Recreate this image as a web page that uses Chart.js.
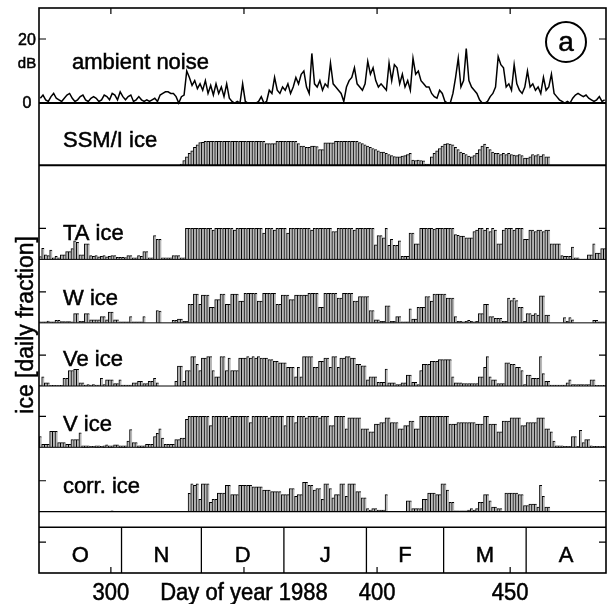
<!DOCTYPE html>
<html>
<head>
<meta charset="utf-8">
<script src="https://cdn.jsdelivr.net/npm/chart.js@4.4.0/dist/chart.umd.min.js"></script>
<style>
  html, body { margin: 0; padding: 0; background: #fff; }
  #wrap { width: 608px; height: 604px; }
</style>
</head>
<body>
<div id="wrap"><canvas id="chart"></canvas></div>
<script>
// daily values, first bar = 1 Oct 1987 (day 273.5, day 365 = 1 Jan 1988)
const firstDay = 273.5;

// ambient noise [dB]
const noise = [
  1.5, 2.5, 1, 0.5, 2, 3, 1.5, 1, 0.5, 1.5,
  2.5, 3, 1.5, 0.5, 1, 2, 2.5, 1, 0.5, 1.5,
  2, 1.5, 0.5, 1, 2.5, 2, 1, 3, 2.5, 1,
  3.5, 2, 1, 2, 2.5, 0.5, 1, 2, 1, 0.5,
  1, 0.5, 1, 1.5, 0.5, 2.5, 3, 3.5, 3.5, 3,
  3, 2, 0, 2, 2.5, 10, 8, 5.5, 7, 4.5,
  6, 4, 7, 3, 5.5, 2.5, 6, 3, 5, 2,
  6, 1.5, 0.5, 0, 0.5, 0, 6, 0.5, 0, 0,
  0, 0, 0.5, 2, 0, 0.5, 4, 3, 8, 4,
  3, 5, 4, 6, 3, 5, 8, 6, 9, 10,
  5, 3, 15.5, 6, 5, 7, 4, 6, 5, 12.5,
  6, 5, 4, 3, 0.5, 5, 7, 8, 11, 6,
  5, 4, 6, 13, 9, 11, 7, 5, 6, 5,
  4, 12.5, 7, 12, 11, 6, 9, 5, 7, 4,
  14, 9, 10, 7, 6, 5, 5, 3, 2, 1.5,
  4, 3, 0.5, 0, 0, 3, 8, 14, 5, 7,
  17, 7, 5, 4, 3, 1, 0, 0, 0.5, 2,
  3, 5, 14.5, 12, 11, 5, 6, 4, 12, 6,
  4, 3, 5, 10, 5, 6, 4, 5, 3, 8,
  4, 5, 9, 3, 2, 1, 0.5, 0, 0.5, 0,
  1.5, 2.5, 3, 2.5, 2, 2.5, 1.5, 1, 0.5, 1,
  2, 0.5, 1
];

// SSM/I ice concentration
const ssm = [
  0, 0, 0, 0, 0, 0, 0, 0, 0, 0,
  0, 0, 0, 0, 0, 0, 0, 0, 0, 0,
  0, 0, 0, 0, 0, 0, 0, 0, 0, 0,
  0, 0, 0, 0, 0, 0, 0, 0, 0, 0,
  0, 0, 0, 0, 0, 0, 0, 0, 0, 0,
  0, 0, 0, 0.05, 0.2, 0.35, 0.5, 0.6, 0.75, 0.85,
  0.95, 0.96, 1, 1, 1, 1, 1, 1, 1, 1,
  1, 1, 1, 1, 1, 1, 1, 1, 1, 1,
  1, 1, 1, 1, 1, 0.9, 0.9, 0.9, 0.9, 1,
  1, 1, 1, 1, 1, 1, 1, 0.9, 0.8, 0.8,
  0.75, 0.75, 0.8, 0.8, 0.78, 0.65, 0.65, 0.94, 0.94, 0.94,
  0.94, 1, 1, 1, 1, 1, 1, 1, 1, 1,
  0.95, 0.9, 0.85, 0.8, 0.75, 0.7, 0.65, 0.6, 0.55, 0.55,
  0.5, 0.45, 0.4, 0.36, 0.35, 0.35, 0.38, 0.4, 0.45, 0.5,
  0.22, 0.2, 0.22, 0.2, 0.18, 0.05, 0.05, 0.35, 0.5, 0.6,
  0.7, 0.8, 0.88, 0.9, 0.88, 0.85, 0.75, 0.65, 0.55, 0.5,
  0.45, 0.38, 0.35, 0.4, 0.5, 0.65, 0.8, 0.88, 0.75, 0.65,
  0.55, 0.5, 0.5, 0.45, 0.5, 0.45, 0.5, 0.45, 0.42, 0.4,
  0.45, 0.4, 0.3, 0.3, 0.35, 0.45, 0.4, 0.45, 0.38, 0.45,
  0.35, 0.35, 0, 0, 0, 0, 0, 0, 0, 0,
  0, 0, 0, 0, 0, 0, 0, 0, 0, 0,
  0, 0, 0
];

// acoustic ice detections, daily fraction
const ta = [
  0.09, 0.36, 0.15, 0.12, 0.3, 0.05, 0.1, 0.05, 0.15, 0.15,
  0.25, 0.25, 0.35, 0.6, 0.55, 0.15, 0.15, 0.5, 0.5, 0.12,
  0.1, 0.12, 0.08, 0.1, 0.12, 0.08, 0.1, 0.12, 0.12, 0.07,
  0.07, 0.07, 0.06, 0.12, 0.12, 0.05, 0.05, 0.12, 0.1, 0.25,
  0.25, 0.05, 0.05, 0.77, 0.65, 0.65, 0.05, 0.05, 0.05, 0.05,
  0.12, 0.12, 0.12, 0.05, 0.05, 1, 1, 1, 1, 1,
  1, 1, 1, 1, 1, 0.95, 1, 1, 1, 1,
  1, 1, 1, 0.95, 1, 1, 1, 1, 1, 1,
  1, 1, 1, 1, 0.85, 1, 1, 1, 0.95, 1,
  1, 1, 1, 0.85, 1, 1, 1, 1, 1, 1,
  1, 1, 0.95, 1, 1, 1, 1, 1, 1, 1,
  0.9, 0.9, 1, 1, 1, 1, 1, 1, 0.95, 1,
  1, 1, 1, 1, 1, 1, 0.47, 0.77, 0.77, 0.7,
  1, 0.45, 0.65, 0.45, 0.45, 0.6, 0.1, 0.1, 0.1, 0.85,
  0.85, 0.5, 0.5, 1, 1, 1, 1, 1, 0.98, 1,
  1, 1, 1, 1, 1, 1, 0.8, 0.78, 0.75, 0.75,
  0.7, 0.7, 0.7, 0.9, 0.95, 1, 1, 0.95, 1, 0.9,
  1, 0.95, 0.5, 0.5, 0.95, 1, 1, 1, 0.95, 1,
  1, 1, 0.65, 0.65, 0.95, 0.95, 0.9, 0.95, 0.95, 0.9,
  0.95, 0.95, 0.5, 0.5, 0.5, 0.5, 0.12, 0.1, 0.1, 0.1,
  0.4, 0.05, 0.05, 0, 0, 0, 0.15, 0.15, 0.5, 0.2,
  0.2, 0.35, 0.35
];

const w = [
  0.03, 0.03, 0.03, 0.06, 0.03, 0.03, 0.08, 0.08, 0.04, 0.04,
  0.04, 0.04, 0.03, 0.3, 0.3, 0.05, 0.05, 0.3, 0.3, 0.1,
  0.1, 0.1, 0.1, 0.2, 0.2, 0.1, 0.35, 0.35, 0.1, 0.1,
  0.03, 0.03, 0.03, 0.03, 0.2, 0.03, 0.03, 0.03, 0.03, 0.2,
  0, 0, 0, 0, 0.4, 0.38, 0, 0, 0, 0,
  0.08, 0.08, 0.12, 0.12, 0.05, 0.05, 0.6, 0.6, 0.93, 0.93,
  0.6, 0.9, 0.9, 0.9, 0.5, 0.5, 0.75, 0.75, 0.93, 0.93,
  0.6, 0.6, 0.93, 0.93, 0.93, 0.7, 0.7, 0.95, 0.95, 0.95,
  0.95, 0.95, 0.7, 0.7, 0.95, 0.95, 0.95, 0.95, 0.95, 0.6,
  0.6, 0.9, 0.9, 0.9, 0.75, 0.75, 0.9, 0.9, 0.9, 0.9,
  0.9, 0.95, 0.95, 0.95, 0.95, 0.5, 0.5, 0.95, 0.95, 0.95,
  0.95, 0.95, 0.8, 0.8, 0.95, 0.95, 0.95, 0.95, 0.7, 0.7,
  0.85, 0.85, 0.85, 0.85, 0.4, 0.4, 0.1, 0.1, 0.05, 0.05,
  0.55, 0.55, 0.05, 0.05, 0.2, 0.2, 0.03, 0.03, 0.03, 0.45,
  0.12, 0.12, 0.5, 0.5, 0.5, 0.85, 0.85, 0.7, 0.93, 0.93,
  0.93, 0.93, 0.93, 0.8, 0.8, 0.8, 0.2, 0.05, 0.05, 0.03,
  0.05, 0.08, 0.05, 0.03, 0.05, 0.3, 0.3, 0.6, 0.6, 0.2,
  0.2, 0.15, 0.15, 0.15, 0.05, 0.05, 0.8, 0.72, 0.8, 0.72,
  0.5, 0.5, 0.05, 0.3, 0.3, 0.25, 0.3, 0.25, 0.87, 0.87,
  0.25, 0.25, 0, 0, 0, 0, 0, 0.17, 0.05, 0.17,
  0.1, 0, 0, 0, 0, 0, 0, 0, 0.08, 0.08,
  0.03, 0.03, 0.03
];

const ve = [
  0.03, 0.3, 0.1, 0.1, 0.02, 0.02, 0.02, 0.02, 0.02, 0.25,
  0.25, 0.5, 0.5, 0.54, 0.54, 0.1, 0.1, 0.03, 0.05, 0.03,
  0.05, 0.03, 0.03, 0.25, 0.05, 0.2, 0.2, 0.2, 0.08, 0.08,
  0.2, 0.03, 0.03, 0.03, 0.03, 0.1, 0.1, 0.15, 0.15, 0.08,
  0.08, 0.15, 0.15, 0.25, 0.1, 0, 0, 0, 0, 0,
  0, 0.15, 0.64, 0.64, 0.15, 0.5, 0.5, 0.95, 0.95, 0.7,
  0.5, 0.9, 0.9, 0.95, 0.95, 0.5, 0.3, 0.3, 0.95, 0.95,
  0.5, 0.9, 0.5, 0.5, 0.5, 0.9, 0.9, 0.9, 0.95, 0.9,
  0.95, 0.9, 0.95, 0.9, 0.9, 0.9, 0.85, 0.85, 0.8, 0.8,
  0.75, 0.75, 0.75, 0.6, 0.6, 0.6, 0.3, 0.6, 0.3, 0.95,
  0.95, 0.95, 0.95, 0.6, 0.6, 0.8, 0.8, 0.9, 0.9, 0.6,
  0.95, 0.95, 0.6, 0.9, 0.9, 0.95, 0.95, 0.9, 0.9, 0.7,
  0.7, 0.65, 0.65, 0.2, 0.3, 0.3, 0.3, 0.12, 0.12, 0.12,
  0.55, 0.1, 0.1, 0.1, 0.05, 0.05, 0.1, 0.1, 0.35, 0.35,
  0.12, 0.12, 0.05, 0.5, 0.7, 0.7, 0.7, 0.8, 0.8, 0.8,
  0.85, 0.85, 0.85, 0.85, 0.85, 0.3, 0.1, 0.1, 0.1, 0.08,
  0.08, 0.08, 0.08, 0.08, 0.08, 0.3, 0.3, 0.6, 0.95, 0.3,
  0.2, 0.2, 0.08, 0.08, 0.08, 0.75, 0.75, 0.7, 0.7, 0.6,
  0.6, 0.5, 0.05, 0.35, 0.35, 0.25, 0.25, 0.25, 0.95, 0.4,
  0.15, 0.15, 0.03, 0.03, 0.03, 0.03, 0.03, 0.03, 0.1, 0.2,
  0.05, 0.05, 0.05, 0.05, 0.05, 0.05, 0.05, 0.2, 0.2, 0.02,
  0.02, 0.02, 0.02
];

const v = [
  0.35, 0.1, 0.1, 0.1, 0.52, 0.52, 0.52, 0.15, 0.15, 0.15,
  0.1, 0.1, 0.25, 0.25, 0.25, 0.47, 0.05, 0.05, 0.05, 0.03,
  0.03, 0.05, 0.05, 0.03, 0.05, 0.08, 0.05, 0.05, 0.08, 0.08,
  0.05, 0.05, 0.05, 0.2, 0.57, 0.15, 0.15, 0.05, 0.05, 0.05,
  0.1, 0.1, 0.1, 0.35, 0.45, 0.6, 0.3, 0.1, 0.1, 0.1,
  0.1, 0.25, 0.25, 0.3, 0.3, 0.9, 1, 1, 1, 1,
  1, 1, 1, 1, 0.7, 1, 1, 1, 1, 1,
  1, 0.95, 1, 1, 1, 1, 1, 1, 1, 0.8,
  1, 1, 1, 1, 1, 1, 0.95, 1, 1, 1,
  1, 1, 0.7, 1, 1, 1, 0.8, 1, 1, 1,
  0.95, 1, 1, 1, 1, 0.95, 1, 1, 1, 0.7,
  0.7, 1, 1, 1, 1, 0.6, 0.95, 0.95, 0.95, 0.95,
  0.95, 0.6, 0.6, 0.6, 0.5, 0.5, 0.75, 0.75, 0.8, 0.8,
  0.95, 0.95, 0.8, 0.8, 0.8, 0.6, 0.6, 0.7, 0.7, 0.85,
  0.85, 0.6, 0.6, 1, 1, 1, 1, 1, 1, 1,
  1, 1, 1, 1, 0.75, 0.75, 0.75, 0.8, 0.8, 0.8,
  0.8, 0.8, 0.8, 0.8, 0.75, 0.75, 0.75, 1, 1, 0.75,
  0.75, 0.75, 0.5, 0.5, 0.85, 0.85, 0.85, 0.95, 0.95, 0.95,
  0.95, 0.7, 0.7, 0.8, 0.8, 0.8, 0.8, 0.95, 0.95, 0.95,
  0.6, 0.6, 0.5, 0.2, 0.05, 0.05, 0.05, 0.03, 0.03, 0.03,
  0.35, 0.35, 0.03, 0.55, 0.15, 0.25, 0.25, 0.05, 0.03, 0.03,
  0.03, 0.03, 0.03
];

const corr = [
  0, 0, 0, 0, 0, 0, 0, 0, 0, 0,
  0, 0, 0, 0, 0, 0, 0, 0, 0, 0,
  0, 0, 0, 0, 0, 0, 0, 0.03, 0, 0,
  0, 0, 0, 0, 0, 0, 0, 0, 0, 0,
  0, 0, 0, 0, 0, 0, 0, 0, 0, 0,
  0, 0, 0, 0, 0, 0, 0.59, 0.9, 0.85, 0.9,
  0.4, 0.9, 0.9, 0.9, 0.3, 0.4, 0.4, 0.6, 0.6, 0.6,
  0.85, 0.85, 0.55, 0.55, 0.55, 0.85, 0.85, 0.85, 0.85, 0.85,
  0.8, 0.8, 0.8, 0.8, 0.7, 0.7, 0.7, 0.65, 0.65, 0.65,
  0.65, 0.55, 0.55, 0.55, 0.75, 0.75, 0.5, 0.55, 0.55, 0.95,
  0.95, 0.85, 0.85, 0.7, 0.75, 0.75, 0.4, 0.9, 0.9, 0.75,
  0.45, 0.55, 0.55, 0.9, 0.9, 0.5, 0.9, 0.9, 0.9, 0.65,
  0.65, 0.45, 0.45, 0.1, 0.05, 0.1, 0.1, 0.05, 0.05, 0.05,
  0.55, 0, 0, 0, 0, 0, 0, 0, 0.35, 0.35,
  0.1, 0.1, 0.1, 0.1, 0.4, 0.4, 0.6, 0.6, 0.6, 0.55,
  0.55, 0.9, 0.9, 0.7, 0.3, 0.3, 0.03, 0.03, 0.03, 0.03,
  0.03, 0.05, 0.1, 0.05, 0.1, 0.3, 0.3, 0.55, 0.55, 0.35,
  0.15, 0.15, 0.1, 0.1, 0, 0.6, 0.6, 0.6, 0.6, 0.6,
  0.55, 0.55, 0.2, 0.2, 0.25, 0.25, 0.25, 0.15, 0.85, 0.5,
  0.15, 0.15, 0, 0, 0, 0, 0, 0, 0, 0,
  0, 0, 0, 0, 0, 0, 0, 0, 0, 0,
  0, 0, 0
];

const months = ['O', 'N', 'D', 'J', 'F', 'M', 'A'];
const monthStarts = [273, 304, 334, 365, 396, 425, 456, 486];
const dayTicks = [300, 350, 400, 450];
const dayTickLabels = ['300', 'Day of year 1988', '400', '450'];
const panelLabels = ['ambient noise', 'SSM/I ice', 'TA ice', 'W ice', 'Ve ice', 'V ice', 'corr. ice'];

// panel layout on one stacked value axis (1 unit = ice fraction 1.0)
const Y_MAX = 18.25;
const base = { noise: 15.18, ssm: 13.17, ta: 10.13, w: 8.08, ve: 6.04, v: 4.06, corr: 1.98, month: 0 };
const monthTop = 1.48;
const dbScale = 0.1034;
const ssmScale = 0.775;

const days = noise.map((_, i) => firstDay + i);
const FONT = "'Liberation Sans', Arial, Helvetica, sans-serif";

function iceBars(values, b, s) {
  return {
    type: 'bar',
    data: values.map((val, i) => ({ x: days[i], y: [b, b + val * s] })),
    backgroundColor: '#b8b8b8',
    borderColor: '#000',
    borderWidth: { top: 1, left: 1, right: 0, bottom: 0 },
    borderSkipped: false,
    grouped: false,
    barPercentage: 1,
    categoryPercentage: 1
  };
}

function text(ctx, s, x, y, size, align, sy) {
  ctx.save();
  ctx.translate(x, y);
  ctx.scale(1, sy || 1);
  ctx.font = size + 'px ' + FONT;
  ctx.textAlign = align || 'left';
  ctx.textBaseline = 'alphabetic';
  ctx.lineWidth = 0.5;
  ctx.fillText(s, 0, 0);
  ctx.strokeText(s, 0, 0);
  ctx.restore();
}

const decor = {
  id: 'decor',
  afterDraw(chart) {
    const { ctx, chartArea: a, scales } = chart;
    const xs = scales.x, ys = scales.y;
    const py = val => ys.getPixelForValue(val);
    const px = val => xs.getPixelForValue(val);
    ctx.save();
    ctx.strokeStyle = '#000';
    ctx.fillStyle = '#000';

    const hline = (val, lw) => {
      ctx.lineWidth = lw;
      ctx.beginPath();
      ctx.moveTo(a.left, py(val));
      ctx.lineTo(a.right, py(val));
      ctx.stroke();
    };
    hline(base.noise, 2);
    hline(base.ssm, 2);
    [base.ta, base.w, base.ve, base.v].forEach(b => hline(b, 1));
    hline(base.corr, 1.3);
    hline(monthTop, 1.5);

    // month band
    ctx.lineWidth = 1.3;
    monthStarts.slice(1, -1).forEach(d => {
      ctx.beginPath();
      ctx.moveTo(px(d), py(monthTop));
      ctx.lineTo(px(d), a.bottom);
      ctx.stroke();
    });
    months.forEach((m, i) => {
      const cx = (px(monthStarts[i]) + px(monthStarts[i + 1])) / 2;
      text(ctx, m, cx, a.bottom - 11, 22, 'center');
    });

    // frame
    ctx.lineWidth = 1.6;
    ctx.strokeRect(a.left, a.top, a.width, a.height);

    // inward ticks
    ctx.lineWidth = 1.2;
    const yTicks = [base.noise + 20 * dbScale, base.ta + 1, base.w + 1, base.ve + 1, base.v + 1, base.corr + 1, base.month + 1];
    yTicks.forEach(t => {
      ctx.beginPath();
      ctx.moveTo(a.left, py(t)); ctx.lineTo(a.left + 7, py(t));
      ctx.moveTo(a.right, py(t)); ctx.lineTo(a.right - 7, py(t));
      ctx.stroke();
    });
    dayTicks.forEach(t => {
      ctx.beginPath();
      ctx.moveTo(px(t), a.top); ctx.lineTo(px(t), a.top + 6);
      ctx.moveTo(px(t), a.bottom); ctx.lineTo(px(t), a.bottom - 6);
      ctx.stroke();
    });

    // day axis labels
    dayTicks.forEach((t, i) => text(ctx, dayTickLabels[i], px(t), a.bottom + 27, 22, 'center', 1.1));

    // dB axis labels
    text(ctx, '20', 27, py(base.noise + 20 * dbScale) + 6, 16, 'center');
    text(ctx, 'dB', 27, py(base.noise + 20 * dbScale) + 29, 15, 'center');
    text(ctx, '0', 27, py(base.noise) + 5, 16, 'center');

    // panel labels
    const labelPos = [
      [base.noise, 33, 33.7], [base.ssm, 24, 18.3], [base.ta, 24, 19.3], [base.w, 24, 18.2],
      [base.ve, 24, 20], [base.v, 24, 16.3], [base.corr, 24, 18.7]
    ];
    panelLabels.forEach((lab, i) => {
      const [b, dx, dy] = labelPos[i];
      text(ctx, lab, a.left + dx, py(b) - dy, 22, 'left');
    });

    // axis title, centred on the ice panels
    ctx.save();
    ctx.translate(33, py(base.w) + 2);
    ctx.rotate(-Math.PI / 2);
    text(ctx, 'ice [daily fraction]', 0, 0, 23, 'center');
    ctx.restore();

    // panel tag
    ctx.lineWidth = 2;
    ctx.beginPath();
    ctx.arc(a.right - 40, a.top + 34, 20, 0, Math.PI * 2);
    ctx.stroke();
    text(ctx, 'a', a.right - 40, a.top + 43, 28, 'center');
    ctx.restore();
  }
};

new Chart(document.getElementById('chart'), {
  type: 'bar',
  data: {
    datasets: [
      {
        type: 'line',
        data: noise.map((val, i) => ({ x: days[i], y: base.noise + val * dbScale })),
        borderColor: '#000',
        borderWidth: 1.5,
        pointRadius: 0,
        tension: 0
      },
      iceBars(ssm, base.ssm, ssmScale),
      iceBars(ta, base.ta, 1),
      iceBars(w, base.w, 1),
      iceBars(ve, base.ve, 1),
      iceBars(v, base.v, 1),
      iceBars(corr, base.corr, 1)
    ]
  },
  options: {
    responsive: true,
    maintainAspectRatio: false,
    animation: false,
    layout: { padding: { left: 39, top: 8, right: 2, bottom: 31 } },
    plugins: { legend: { display: false }, tooltip: { enabled: false } },
    scales: {
      x: { type: 'linear', min: monthStarts[0], max: monthStarts[monthStarts.length - 1], offset: false, display: false, grid: { offset: false } },
      y: { type: 'linear', min: 0, max: Y_MAX, display: false }
    }
  },
  plugins: [decor]
});
</script>
</body>
</html>
